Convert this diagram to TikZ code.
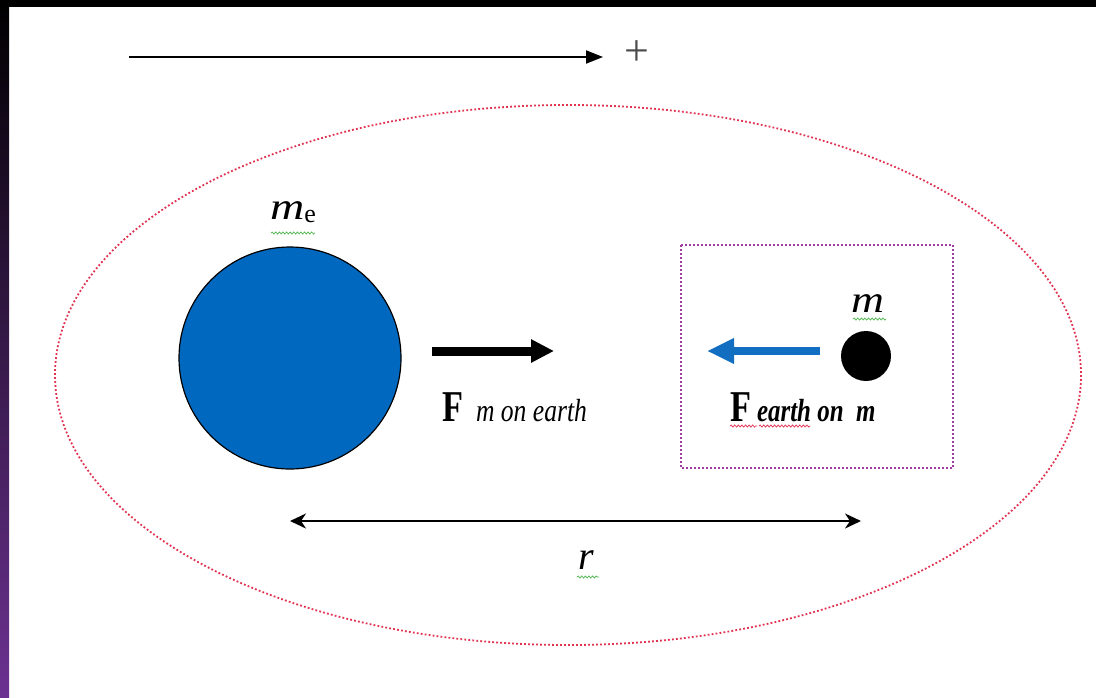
\documentclass[tikz,border=0pt]{standalone}
\usepackage{fontspec}
\setmainfont{Liberation Serif}
\usetikzlibrary{arrows.meta,decorations.pathmorphing}
\definecolor{earthblue}{RGB}{0,104,190}
\definecolor{arrowblue}{RGB}{18,110,192}
\definecolor{dotred}{RGB}{225,50,80}
\definecolor{dotpurple}{RGB}{160,60,160}
\definecolor{stripepurple}{RGB}{108,50,145}
\definecolor{spellgreen}{RGB}{90,185,90}
\definecolor{spellred}{RGB}{230,60,90}
\tikzset{
  dotline/.style={line width=0.9pt,dash pattern=on 0.9pt off 1.1pt},
  wavy/.style={line width=0.4pt,decorate,decoration={snake,amplitude=0.5pt,segment length=1.8pt}},
  lbl/.style={inner sep=0pt,outer sep=0pt},
}
\begin{document}
\begin{tikzpicture}[x=0.5pt,y=-0.5pt]
\useasboundingbox (0,0) rectangle (1096,697);
% frame
\fill[white] (0,0) rectangle (1096,697);
\fill[black] (0,0) rectangle (1096,7);
\shade[top color=black,bottom color=stripepurple] (0,0) rectangle (9,697);
% ellipse and box
\draw[dotred,dotline] (568,375) ellipse [x radius=513,y radius=270];
\draw[dotpurple,dotline] (681,245) rectangle (953,468);
% top direction arrow
\coordinate (ta) at (129,57);
\coordinate (tb) at (603,57);
\draw[line width=1pt,-{Triangle[length=8.5pt,width=6.5pt]}] (ta) -- (tb);
\node[lbl,text=black!70,font=\fontsize{22}{22}\selectfont] (plus) at (637,53) {+};
% earth
\node[circle,draw=black,line width=0.6pt,fill=earthblue,minimum size=111pt,inner sep=0pt] (earth) at (290,358) {};
\node[lbl,anchor=base west,font=\fontsize{19}{19}\selectfont] (me) at (270,219) {\scalebox{1.25}[1]{\itshape m}\raisebox{-1.5pt}{\fontsize{13}{13}\selectfont e}};
% small mass
\node[circle,fill=black,minimum size=25pt,inner sep=0pt] (mass) at (866,356) {};
\node[lbl,anchor=base west,font=\fontsize{19}{19}\selectfont] (mlbl) at (851,312) {\scalebox{1.2}[1]{\itshape m}};
% force arrows
\coordinate (fa1) at (432,351);
\coordinate (fa2) at (554,351);
\draw[line width=4.5pt,-{Triangle[length=11.5pt,width=11pt]}] (fa1) -- (fa2);
\coordinate (fb1) at (820,351);
\coordinate (fb2) at (707,351);
\draw[arrowblue,line width=4pt,-{Triangle[length=13.5pt,width=12pt]}] (fb1) -- (fb2);
% force labels
\node[lbl,anchor=base west,font=\fontsize{22}{22}\selectfont\bfseries] (F1) at (442,421) {\scalebox{0.78}[1]{F}};
\node[lbl,anchor=base west,font=\fontsize{16}{16}\selectfont\itshape] (F1s) at (476,421) {\scalebox{0.8}[1]{m on earth}};
\node[lbl,anchor=base west,font=\fontsize{22}{22}\selectfont\bfseries] (F2) at (730,421) {\scalebox{0.78}[1]{F}};
\node[lbl,anchor=base west,font=\fontsize{16}{16}\selectfont\bfseries\itshape] (F2s) at (757,421) {\scalebox{0.78}[1]{earth on\ \ m}};
% distance
\coordinate (ra) at (290,521);
\coordinate (rb) at (861,521);
\draw[line width=1pt,{Stealth[length=8pt,width=7.5pt,inset=2.5pt]}-{Stealth[length=8pt,width=7.5pt,inset=2.5pt]}] (ra) -- (rb);
\node[lbl,anchor=base west,font=\fontsize{20}{20}\selectfont\itshape] (rlbl) at (578,569) {r};
% spell-check underlines
\draw[spellgreen,wavy] (271,233) -- (315,233);
\draw[spellgreen,wavy] (853,319) -- (886,319);
\draw[spellgreen,wavy] (577,577) -- (599,577);
\draw[spellred,wavy] (730,426) -- (757,426);
\draw[spellred,wavy] (759,426) -- (810,426);
\end{tikzpicture}
\end{document}
